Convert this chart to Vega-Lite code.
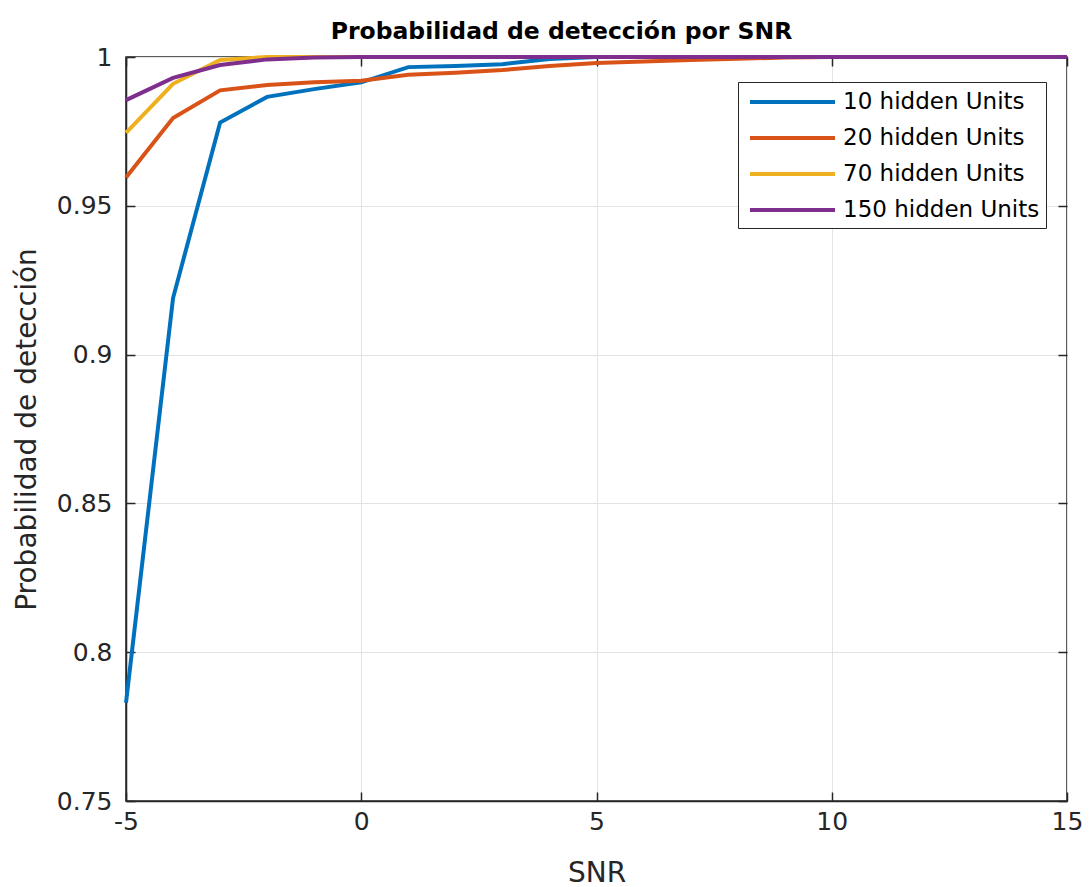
{
  "$schema": "https://vega.github.io/schema/vega-lite/v6.json",
  "width": 941,
  "height": 744,
  "autosize": "none",
  "padding": {"left": 126, "top": 57, "right": 22, "bottom": 86},
  "background": "white",
  "config": {
    "font": "DejaVu Sans",
    "view": {"stroke": "#262626", "strokeWidth": 1.5},
    "axis": {
      "gridColor": "#e3e3e3",
      "gridWidth": 1,
      "domainColor": "#262626",
      "domainWidth": 1.5,
      "tickColor": "#262626",
      "tickSize": -9,
      "tickWidth": 1.5,
      "labelFont": "DejaVu Sans",
      "labelFontSize": 25,
      "labelColor": "#262626",
      "titleFont": "DejaVu Sans",
      "titleFontSize": 28,
      "titleFontWeight": "normal",
      "titleColor": "#262626"
    }
  },
  "title": {
    "text": "Probabilidad de detección por SNR",
    "font": "DejaVu Sans",
    "fontSize": 23.5,
    "fontWeight": "bold",
    "color": "#000000",
    "offset": 2,
    "dx": -35
  },
  "data": {
    "values": [
      {"snr": -5, "p": 0.783, "series": "10 hidden Units"},
      {"snr": -4, "p": 0.919, "series": "10 hidden Units"},
      {"snr": -3, "p": 0.978, "series": "10 hidden Units"},
      {"snr": -2, "p": 0.9866, "series": "10 hidden Units"},
      {"snr": -1, "p": 0.9892, "series": "10 hidden Units"},
      {"snr": 0, "p": 0.9915, "series": "10 hidden Units"},
      {"snr": 1, "p": 0.9966, "series": "10 hidden Units"},
      {"snr": 2, "p": 0.997, "series": "10 hidden Units"},
      {"snr": 3, "p": 0.9976, "series": "10 hidden Units"},
      {"snr": 4, "p": 0.9993, "series": "10 hidden Units"},
      {"snr": 5, "p": 1.0, "series": "10 hidden Units"},
      {"snr": 6, "p": 1.0, "series": "10 hidden Units"},
      {"snr": 7, "p": 1.0, "series": "10 hidden Units"},
      {"snr": 8, "p": 1.0, "series": "10 hidden Units"},
      {"snr": 9, "p": 1.0, "series": "10 hidden Units"},
      {"snr": 10, "p": 1.0, "series": "10 hidden Units"},
      {"snr": 11, "p": 1.0, "series": "10 hidden Units"},
      {"snr": 12, "p": 1.0, "series": "10 hidden Units"},
      {"snr": 13, "p": 1.0, "series": "10 hidden Units"},
      {"snr": 14, "p": 1.0, "series": "10 hidden Units"},
      {"snr": 15, "p": 1.0, "series": "10 hidden Units"},
      {"snr": -5, "p": 0.9595, "series": "20 hidden Units"},
      {"snr": -4, "p": 0.9795, "series": "20 hidden Units"},
      {"snr": -3, "p": 0.9888, "series": "20 hidden Units"},
      {"snr": -2, "p": 0.9906, "series": "20 hidden Units"},
      {"snr": -1, "p": 0.9915, "series": "20 hidden Units"},
      {"snr": 0, "p": 0.992, "series": "20 hidden Units"},
      {"snr": 1, "p": 0.994, "series": "20 hidden Units"},
      {"snr": 2, "p": 0.9947, "series": "20 hidden Units"},
      {"snr": 3, "p": 0.9956, "series": "20 hidden Units"},
      {"snr": 4, "p": 0.997, "series": "20 hidden Units"},
      {"snr": 5, "p": 0.998, "series": "20 hidden Units"},
      {"snr": 6, "p": 0.9985, "series": "20 hidden Units"},
      {"snr": 7, "p": 0.999, "series": "20 hidden Units"},
      {"snr": 8, "p": 0.9994, "series": "20 hidden Units"},
      {"snr": 9, "p": 0.9998, "series": "20 hidden Units"},
      {"snr": 10, "p": 1.0, "series": "20 hidden Units"},
      {"snr": 11, "p": 1.0, "series": "20 hidden Units"},
      {"snr": 12, "p": 1.0, "series": "20 hidden Units"},
      {"snr": 13, "p": 1.0, "series": "20 hidden Units"},
      {"snr": 14, "p": 1.0, "series": "20 hidden Units"},
      {"snr": 15, "p": 1.0, "series": "20 hidden Units"},
      {"snr": -5, "p": 0.9745, "series": "70 hidden Units"},
      {"snr": -4, "p": 0.991, "series": "70 hidden Units"},
      {"snr": -3, "p": 0.999, "series": "70 hidden Units"},
      {"snr": -2, "p": 1.0, "series": "70 hidden Units"},
      {"snr": -1, "p": 1.0, "series": "70 hidden Units"},
      {"snr": 0, "p": 1.0, "series": "70 hidden Units"},
      {"snr": 1, "p": 1.0, "series": "70 hidden Units"},
      {"snr": 2, "p": 1.0, "series": "70 hidden Units"},
      {"snr": 3, "p": 1.0, "series": "70 hidden Units"},
      {"snr": 4, "p": 1.0, "series": "70 hidden Units"},
      {"snr": 5, "p": 1.0, "series": "70 hidden Units"},
      {"snr": 6, "p": 1.0, "series": "70 hidden Units"},
      {"snr": 7, "p": 1.0, "series": "70 hidden Units"},
      {"snr": 8, "p": 1.0, "series": "70 hidden Units"},
      {"snr": 9, "p": 1.0, "series": "70 hidden Units"},
      {"snr": 10, "p": 1.0, "series": "70 hidden Units"},
      {"snr": 11, "p": 1.0, "series": "70 hidden Units"},
      {"snr": 12, "p": 1.0, "series": "70 hidden Units"},
      {"snr": 13, "p": 1.0, "series": "70 hidden Units"},
      {"snr": 14, "p": 1.0, "series": "70 hidden Units"},
      {"snr": 15, "p": 1.0, "series": "70 hidden Units"},
      {"snr": -5, "p": 0.9855, "series": "150 hidden Units"},
      {"snr": -4, "p": 0.993, "series": "150 hidden Units"},
      {"snr": -3, "p": 0.9973, "series": "150 hidden Units"},
      {"snr": -2, "p": 0.9992, "series": "150 hidden Units"},
      {"snr": -1, "p": 0.9998, "series": "150 hidden Units"},
      {"snr": 0, "p": 1.0, "series": "150 hidden Units"},
      {"snr": 1, "p": 1.0, "series": "150 hidden Units"},
      {"snr": 2, "p": 1.0, "series": "150 hidden Units"},
      {"snr": 3, "p": 1.0, "series": "150 hidden Units"},
      {"snr": 4, "p": 1.0, "series": "150 hidden Units"},
      {"snr": 5, "p": 1.0, "series": "150 hidden Units"},
      {"snr": 6, "p": 1.0, "series": "150 hidden Units"},
      {"snr": 7, "p": 1.0, "series": "150 hidden Units"},
      {"snr": 8, "p": 1.0, "series": "150 hidden Units"},
      {"snr": 9, "p": 1.0, "series": "150 hidden Units"},
      {"snr": 10, "p": 1.0, "series": "150 hidden Units"},
      {"snr": 11, "p": 1.0, "series": "150 hidden Units"},
      {"snr": 12, "p": 1.0, "series": "150 hidden Units"},
      {"snr": 13, "p": 1.0, "series": "150 hidden Units"},
      {"snr": 14, "p": 1.0, "series": "150 hidden Units"},
      {"snr": 15, "p": 1.0, "series": "150 hidden Units"}
    ]
  },
  "resolve": {"axis": {"x": "independent", "y": "independent"}},
  "layer": [
    {
      "mark": {"type": "line", "strokeWidth": 4, "clip": false},
      "encoding": {
        "x": {
          "field": "snr",
          "type": "quantitative",
          "title": "SNR",
          "scale": {"domain": [-5, 15], "nice": false, "zero": false},
          "axis": {"values": [-5, 0, 5, 10, 15], "labelExpr": "datum.value < 0 ? '-' + abs(datum.value) : '' + datum.value", "labelPadding": 17, "titlePadding": 25, "labelFlush": false}
        },
        "y": {
          "field": "p",
          "type": "quantitative",
          "title": "Probabilidad de detección",
          "scale": {"domain": [0.75, 1], "nice": false, "zero": false},
          "axis": {"values": [0.75, 0.8, 0.85, 0.9, 0.95, 1], "format": "~g", "labelPadding": 23, "titlePadding": 15, "labelFlush": false}
        },
        "color": {
          "field": "series",
          "type": "nominal",
          "sort": ["10 hidden Units", "20 hidden Units", "70 hidden Units", "150 hidden Units"],
          "scale": {
            "domain": ["10 hidden Units", "20 hidden Units", "70 hidden Units", "150 hidden Units"],
            "range": ["#0072BD", "#D95319", "#EDB120", "#7E2F8E"]
          },
          "legend": {
            "title": null,
            "orient": "none",
            "legendX": 612,
            "legendY": 25,
            "symbolType": "M-0.667,0L6.417,0",
            "symbolSize": 576,
            "symbolStrokeWidth": 4,
            "labelFont": "DejaVu Sans",
            "labelFontSize": 23,
            "labelColor": "#000000",
            "labelOffset": 71,
            "rowPadding": 10,
            "padding": 6,
            "strokeColor": "#262626",
            "fillColor": "white",
            "labelLimit": 300
          }
        },
        "order": {"field": "snr", "type": "quantitative"}
      }
    },
    {
      "mark": {"type": "line", "strokeOpacity": 0},
      "encoding": {
        "x": {
          "field": "snr",
          "type": "quantitative",
          "axis": {"orient": "top", "values": [-5, 0, 5, 10, 15], "labels": false, "title": null, "grid": false, "domain": false}
        },
        "y": {
          "field": "p",
          "type": "quantitative",
          "axis": {"orient": "right", "values": [0.75, 0.8, 0.85, 0.9, 0.95, 1], "labels": false, "title": null, "grid": false, "domain": false}
        },
        "detail": {"field": "series"}
      }
    }
  ]
}
